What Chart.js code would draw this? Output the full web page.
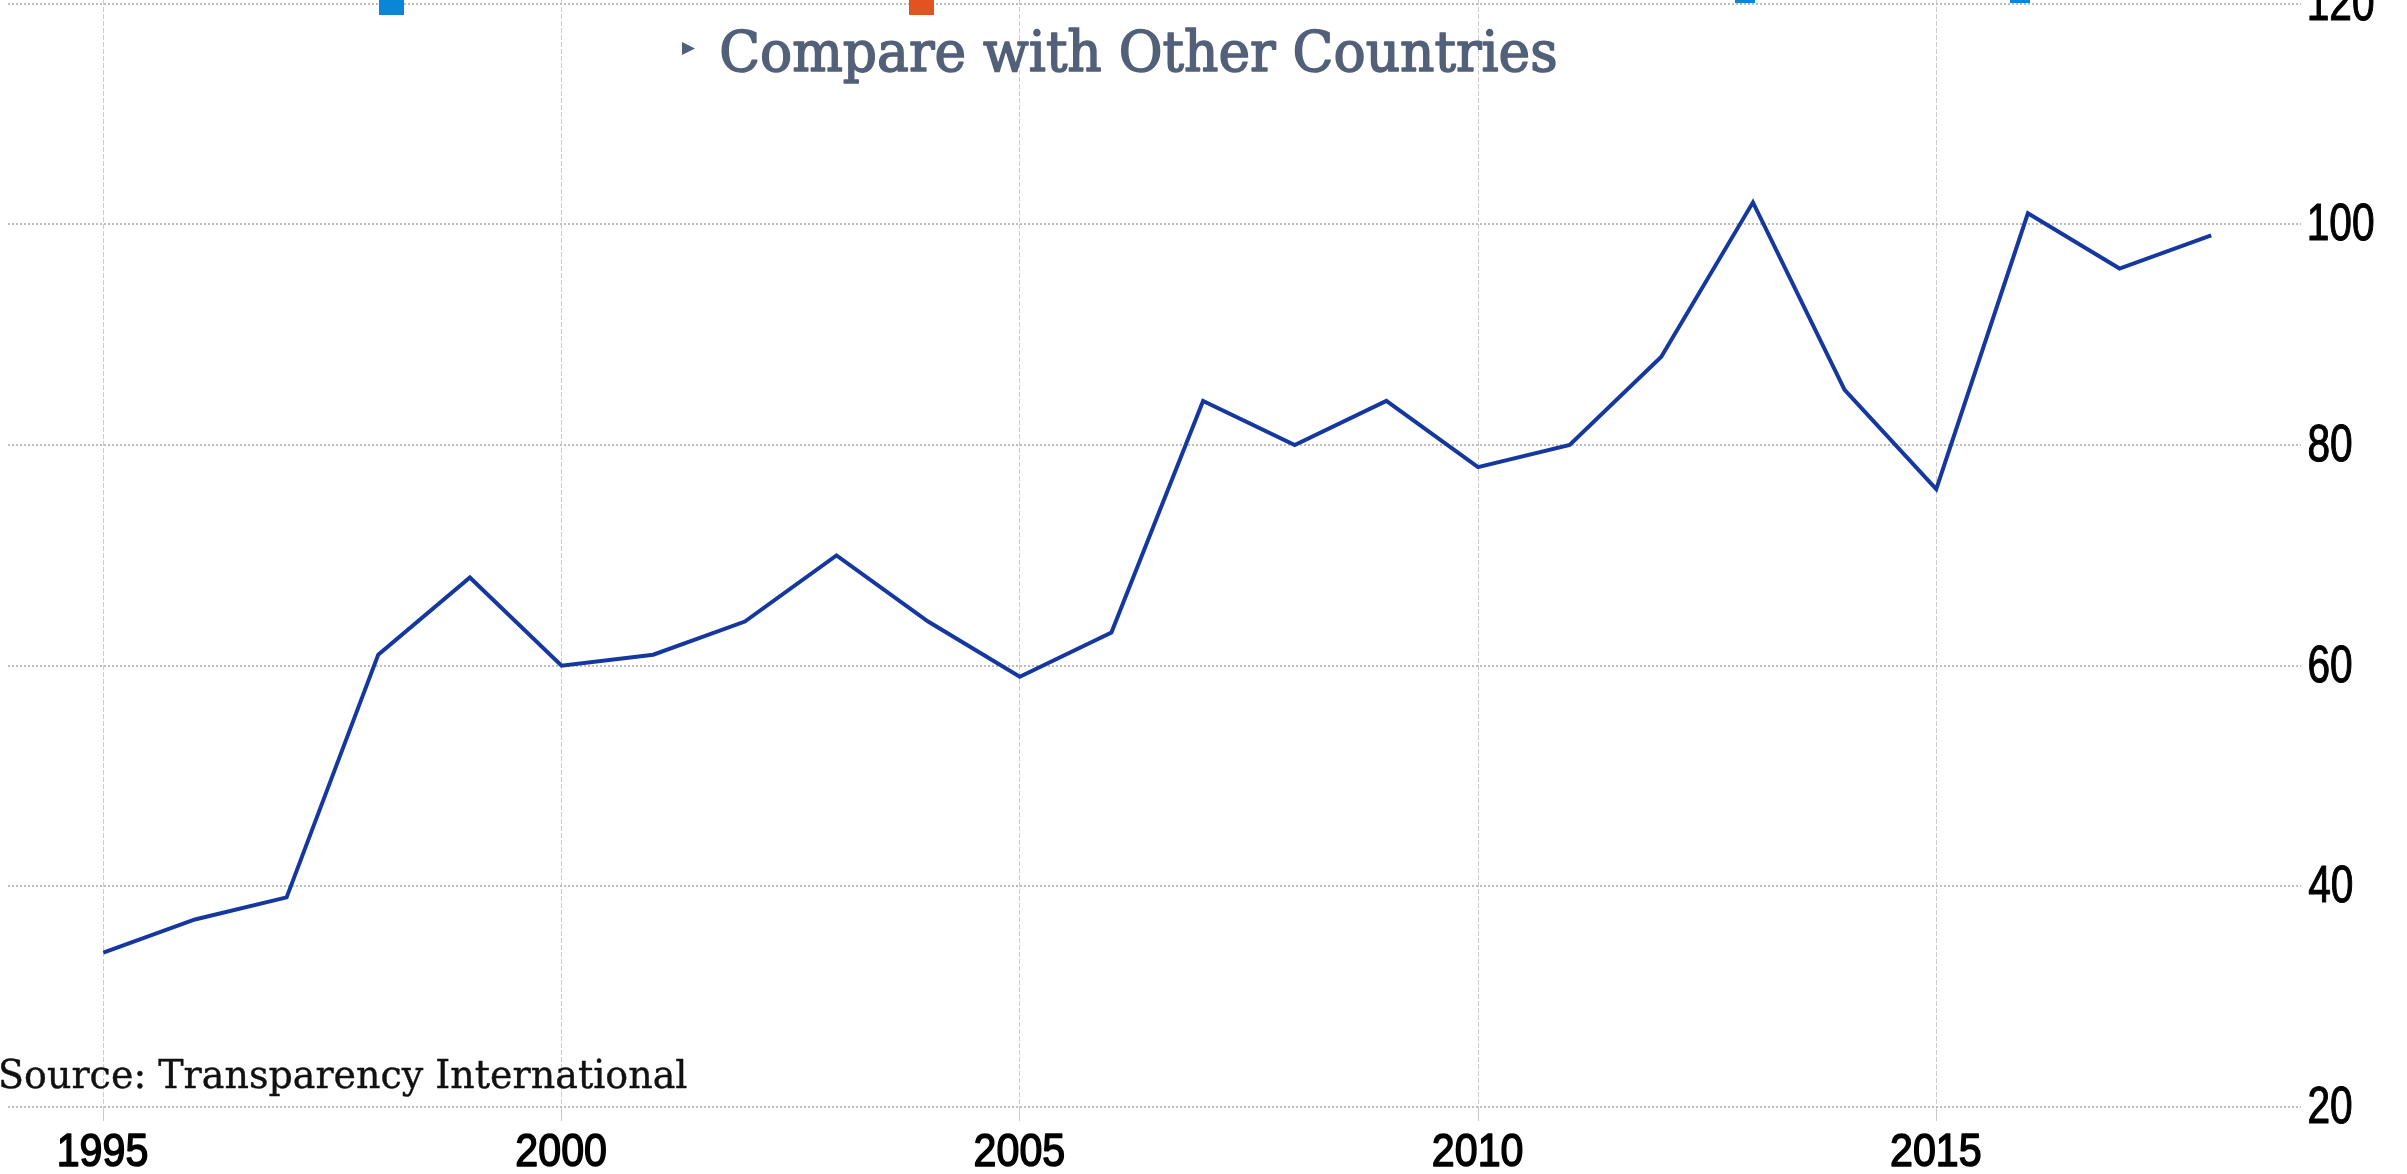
<!DOCTYPE html>
<html>
<head>
<meta charset="utf-8">
<script src="https://cdn.jsdelivr.net/npm/chart.js@4/dist/chart.umd.min.js"></script>
<style>
  html, body { margin: 0; padding: 0; background: #ffffff; }
  canvas { display: block; }
</style>
</head>
<body>
<canvas id="c" width="2407" height="1174"></canvas>
<script>
// ---- data ----
const years = [1995, 1996, 1997, 1998, 1999, 2000, 2001, 2002, 2003, 2004, 2005, 2006,
               2007, 2008, 2009, 2010, 2011, 2012, 2013, 2014, 2015, 2016, 2017, 2018];
const values = [34, 37, 39, 61, 68, 60, 61, 64, 70, 64, 59, 63,
                84, 80, 84, 78, 80, 88, 102, 85, 76, 101, 96, 99];
const xTickYears = [1995, 2000, 2005, 2010, 2015];
const yTickValues = [20, 40, 60, 80, 100, 120];
const titleText = "Compare with Other Countries";
const sourceText = "Source: Transparency International";

const points = years.map((y, i) => ({ x: y, y: values[i] }));

function drawFitted(ctx, text, font, inkLeft, baseline, inkWidth, color, strokeW) {
  ctx.save();
  ctx.font = font;
  ctx.textAlign = 'left';
  ctx.textBaseline = 'alphabetic';
  const m = ctx.measureText(text);
  const w = m.actualBoundingBoxLeft + m.actualBoundingBoxRight;
  const sx = inkWidth / w;
  ctx.translate(inkLeft, baseline);
  ctx.scale(sx, 1);
  ctx.fillStyle = color;
  ctx.fillText(text, m.actualBoundingBoxLeft, 0);
  if (strokeW) {
    ctx.strokeStyle = color;
    ctx.lineWidth = strokeW;
    ctx.lineJoin = 'round';
    ctx.strokeText(text, m.actualBoundingBoxLeft, 0);
  }
  ctx.restore();
}

function inkScale(ctx, text, font, target) {
  ctx.save();
  ctx.font = font;
  const m = ctx.measureText(text);
  ctx.restore();
  return target / (m.actualBoundingBoxLeft + m.actualBoundingBoxRight);
}

function drawLabel(ctx, txt, font, sx, inkLeft, baseline, strokeW) {
  ctx.save();
  ctx.font = font;
  const m = ctx.measureText(txt);
  ctx.translate(inkLeft, baseline);
  ctx.scale(sx, 1);
  ctx.fillStyle = '#000000';
  ctx.strokeStyle = '#000000';
  ctx.lineWidth = strokeW;
  ctx.lineJoin = 'round';
  ctx.textBaseline = 'alphabetic';
  ctx.fillText(txt, m.actualBoundingBoxLeft, 0);
  ctx.strokeText(txt, m.actualBoundingBoxLeft, 0);
  ctx.restore();
}

const decor = {
  id: 'decor',
  afterDraw(chart) {
    const ctx = chart.ctx;
    const xs = chart.scales.x, ys = chart.scales.y;

    // y labels (right side)
    const yFont = '52px "Liberation Sans", Arial, sans-serif';
    const syY = inkScale(ctx, '100', yFont, 64);
    ys.ticks.forEach(t => {
      const py = ys.getPixelForValue(t.value);
      drawLabel(ctx, String(t.value), yFont, syY, 2309, py + 16, 1.1);
    });

    // x labels (bottom)
    const xFont = '47px "Liberation Sans", Arial, sans-serif';
    const sxX = inkScale(ctx, '1995', xFont, 88);
    xs.ticks.forEach(t => {
      const px = xs.getPixelForValue(t.value);
      const txt = String(t.value);
      ctx.save();
      ctx.font = xFont;
      const m = ctx.measureText(txt);
      ctx.restore();
      const w = (m.actualBoundingBoxLeft + m.actualBoundingBoxRight) * sxX;
      drawLabel(ctx, txt, xFont, sxX, px - w / 2, 1166, 1.6);
    });

    // title
    ctx.save();
    ctx.fillStyle = '#526079';
    ctx.beginPath();
    ctx.moveTo(682, 42);
    ctx.lineTo(695, 48.5);
    ctx.lineTo(682, 55);
    ctx.closePath();
    ctx.fill();
    ctx.restore();
    drawFitted(ctx, titleText, '56px "DejaVu Serif", serif', 722, 71, 833, '#526079', 1.6);

    // source
    drawFitted(ctx, sourceText, '39px "DejaVu Serif", serif', 1, 1088, 686, '#111111', 0.4);

    // clipped markers at the top edge
    ctx.save();
    ctx.fillStyle = '#0a86d9';
    ctx.fillRect(379, 0, 25, 15);
    ctx.fillRect(1735, 0, 20, 3);
    ctx.fillRect(2010, 0, 20, 3);
    ctx.fillStyle = '#e2531f';
    ctx.fillRect(909, 0, 25, 15);
    ctx.restore();
  }
};

new Chart(document.getElementById('c'), {
  type: 'line',
  data: {
    datasets: [{
      data: points,
      borderColor: '#1538a0',
      borderWidth: 4,
      pointRadius: 0,
      tension: 0,
      fill: false
    }]
  },
  options: {
    responsive: false,
    animation: false,
    devicePixelRatio: 1,
    layout: { padding: { left: 8, top: 0, right: 0, bottom: 0 } },
    plugins: { legend: { display: false }, tooltip: { enabled: false }, title: { display: false } },
    scales: {
      x: {
        type: 'linear',
        min: 1993.96,
        max: 2018.98,
        afterBuildTicks: s => { s.ticks = xTickYears.map(v => ({ value: v })); },
        afterFit: s => { s.height = 67; },
        ticks: { display: false },
        grid: {
          color: '#cccccc',
          lineWidth: 1,
          drawTicks: true,
          tickLength: 14,
          tickColor: '#c8c8c8',
          tickWidth: 1
        },
        border: { display: false, dash: [5, 2] }
      },
      y: {
        type: 'linear',
        position: 'right',
        min: 20,
        max: 120.34,
        afterBuildTicks: s => { s.ticks = yTickValues.map(v => ({ value: v })); },
        afterFit: s => { s.width = 106; },
        ticks: { display: false },
        grid: {
          color: '#bdbdbd',
          lineWidth: 2,
          drawTicks: false
        },
        border: { display: false, dash: [2, 2] }
      }
    }
  },
  plugins: [decor]
});
</script>
</body>
</html>
